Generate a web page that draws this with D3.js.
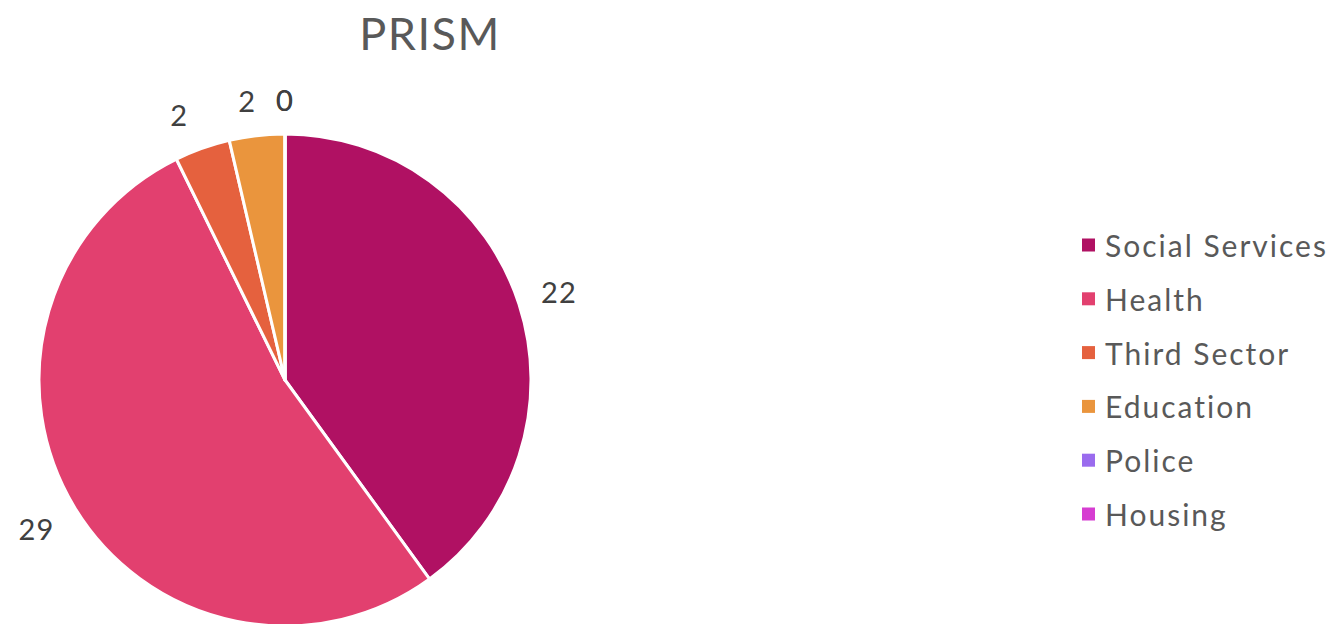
<!DOCTYPE html>
<html>
<head>
<meta charset="utf-8">
<script src="https://cdn.jsdelivr.net/npm/d3@7"></script>
<style>
  html, body { margin: 0; padding: 0; background: #fff; }
  svg { display: block; }
  text { font-family: "Lato", "Noto Sans", sans-serif; }
</style>
</head>
<body>
<svg id="chart" width="1339" height="624"></svg>
<script>
// Referrals by agency
const title = "PRISM";
const categories = ["Social Services", "Health", "Third Sector", "Education", "Police", "Housing"];
const values = [22, 29, 2, 2, 0, 0];
const colors = ["#B01163", "#E2406F", "#E5613E", "#EA953D", "#9A6BEE", "#D63DD1"];

// Layout
const W = 1339, H = 624;
const cx = 285, cy = 380, radius = 246, labelRadius = 288;
// small nudges for crowded labels near the top of the pie
const labelNudgeX = [0, -2, -9, -5, 0, 0];
const labelNudgeY = [0, 0, 6, 7, 7, 7];

const svg = d3.select("#chart");

svg.append("text")
  .attr("x", 430).attr("y", 50)
  .attr("text-anchor", "middle")
  .attr("fill", "#595959")
  .attr("font-size", 45)
  .attr("letter-spacing", 1.5)
  .text(title);

const pie = d3.pie().sort(null).value(d => d.value);
const arcs = pie(categories.map((c, i) => ({ name: c, value: values[i], color: colors[i], i })));

const arc = d3.arc().innerRadius(0).outerRadius(radius);
const labelArc = d3.arc().innerRadius(labelRadius).outerRadius(labelRadius);

const g = svg.append("g").attr("transform", `translate(${cx},${cy})`);

g.selectAll("path.slice")
  .data(arcs)
  .join("path")
  .attr("class", "slice")
  .attr("d", arc)
  .attr("fill", d => d.data.color)
  .attr("stroke", "#fff")
  .attr("stroke-width", 3)
  .attr("stroke-linejoin", "round");

g.selectAll("text.val")
  .data(arcs)
  .join("text")
  .attr("class", "val")
  .attr("x", d => labelArc.centroid(d)[0] + labelNudgeX[d.data.i])
  .attr("y", d => labelArc.centroid(d)[1] + labelNudgeY[d.data.i])
  .attr("text-anchor", "middle")
  .attr("dominant-baseline", "central")
  .attr("fill", "#404040")
  .attr("font-size", 29)
  .attr("letter-spacing", 1)
  .text(d => d.data.value);

// Legend
const legend = svg.append("g").attr("transform", "translate(1082,245)");
const rowH = 53.8;
const rows = legend.selectAll("g.row")
  .data(categories)
  .join("g")
  .attr("class", "row")
  .attr("transform", (d, i) => `translate(0,${i * rowH})`);

rows.append("rect")
  .attr("x", 0).attr("y", -6.5)
  .attr("width", 13).attr("height", 13)
  .attr("fill", (d, i) => colors[i]);

rows.append("text")
  .attr("x", 23).attr("y", 0)
  .attr("dominant-baseline", "central")
  .attr("fill", "#595959")
  .attr("font-size", 30)
  .attr("letter-spacing", 2)
  .text(d => d);
</script>
</body>
</html>
